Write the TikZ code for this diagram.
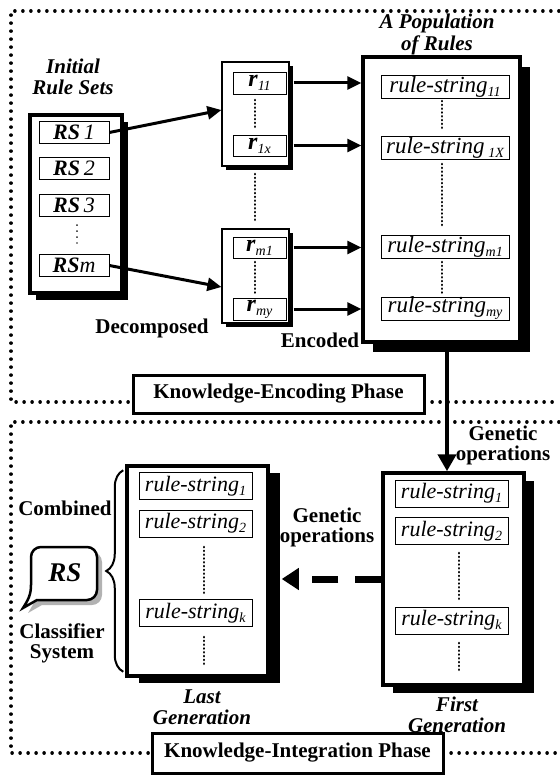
\documentclass[tikz,border=0pt]{standalone}
\usepackage{fontspec}
\setmainfont{Liberation Serif}
\usetikzlibrary{arrows.meta,shadows,decorations.pathreplacing,calc}
\newcommand\lowsub[1]{\raisebox{-4pt}{\fontsize{14}{14}\selectfont\itshape #1}}
\begin{document}
\begin{tikzpicture}[x=1pt,y=-1pt,
  dotborder/.style={line width=3.4pt, line cap=round, dash pattern=on 0.2pt off 7.8pt},
  shd/.style n args={2}{drop shadow={shadow xshift=#1, shadow yshift=-#2, fill=black, opacity=1}},
  bigbox/.style={draw, line width=3.2pt, fill=white, inner sep=0pt},
  smallbox/.style={draw, line width=1.2pt, fill=white, inner sep=0pt, shd={4pt}{4pt}},
  strbox/.style={draw, line width=0.7pt, fill=white, inner sep=0pt},
  lab/.style={font=\fontsize{21}{20}\selectfont\bfseries, align=center},
  itlab/.style={font=\fontsize{21}{21}\selectfont\bfseries\itshape, align=center},
  innerdots/.style={line width=2.6pt, line cap=round, dash pattern=on 0.2pt off 3.6pt},
  arr/.style={line width=3pt, -{Triangle[length=14pt,width=13pt]}},
  rsf/.style={font=\fontsize{22}{22}\selectfont},
  rf/.style={font=\fontsize{24}{24}\selectfont},
  strA/.style={font=\fontsize{23}{23}\selectfont},
  strB/.style={font=\fontsize{22}{22}\selectfont}
]
\useasboundingbox (0,0) rectangle (559,778);

% dotted phase regions
\draw[dotborder] (559,11) -- (11,11) -- (11,402) -- (133,402);
\draw[dotborder] (424,402) -- (559,402);
\draw[dotborder] (559,422) -- (11,422) -- (11,753) -- (152,753);
\draw[dotborder] (443,753) -- (559,753);

% Initial rule sets
\node[itlab] (irslab) at (73,77) {Initial\\Rule Sets};
\node[bigbox, line width=3.5pt, minimum width=92pt, minimum height=178pt, shd={6pt}{7pt}] (irs) at (76,204) {};
\node[strbox, rsf, minimum width=70pt, minimum height=22pt] (rs1) at (74,132.5) {\textbf{\textit{RS}}\,\textit{1}};
\node[strbox, rsf, minimum width=70pt, minimum height=22pt] (rs2) at (74,168) {\textbf{\textit{RS}}\,\textit{2}};
\node[strbox, rsf, minimum width=70pt, minimum height=22pt] (rs3) at (74,205) {\textbf{\textit{RS}}\,\textit{3}};
\node[strbox, rsf, minimum width=70pt, minimum height=22pt] (rsm) at (74,265.5) {\textbf{\textit{RS}}\textit{m}};
\draw[line width=1.4pt, line cap=round, dash pattern=on 0.2pt off 5.8pt] (77,225) -- (77,243);

% decomposed boxes
\node[smallbox, minimum width=67pt, minimum height=104pt] (ubox) at (255.5,114) {};
\node[smallbox, minimum width=67pt, minimum height=94pt] (lbox) at (255.5,276) {};
\node[strbox, rf, minimum width=53pt, minimum height=22pt] (r11) at (259.5,83) {\textbf{\textit{r}}\lowsub{11}};
\node[strbox, rf, minimum width=53pt, minimum height=21pt] (r1x) at (259.5,145.5) {\textbf{\textit{r}}\lowsub{1x}};
\node[strbox, rf, minimum width=53pt, minimum height=21pt] (rm1) at (259.5,247.5) {\textbf{\textit{r}}\lowsub{m1}};
\node[strbox, rf, minimum width=53pt, minimum height=22pt] (rmy) at (259.5,309) {\textbf{\textit{r}}\lowsub{my}};
\draw[innerdots] (255,100) -- (255,128);
\draw[innerdots] (255,174) -- (255,223);
\draw[innerdots] (255,262) -- (255,293);
\node[lab] (decomp) at (152,328) {Decomposed};

% population
\node[itlab] (poplab) at (437,34.5) {A Population\\[1pt]of Rules};
\node[bigbox, line width=3.5pt, minimum width=157pt, minimum height=285pt, shd={10pt}{10pt}] (pop) at (441.5,199.5) {};
\node[strbox, strA, minimum width=128pt, minimum height=23pt] (s11) at (445,86.5) {\textit{rule-string}\lowsub{11}};
\node[strbox, strA, minimum width=128pt, minimum height=23pt] (s1x) at (445,147.5) {\textit{rule-string}\,\lowsub{1X}};
\node[strbox, strA, minimum width=128pt, minimum height=23pt] (sm1) at (445,246.5) {\textit{rule-string}\lowsub{m1}};
\node[strbox, strA, minimum width=128pt, minimum height=23pt] (smy) at (445,308.5) {\textit{rule-string}\lowsub{my}};
\draw[innerdots] (442,101) -- (442,128);
\draw[innerdots] (442,164) -- (442,225);
\draw[innerdots] (442,262) -- (442,293);
\node[lab] (enc) at (320,340) {Encoded};

% arrows upper part
\draw[arr] (rs1.east) -- ($(ubox.west)+(0,-4)$);
\draw[arr] (rsm.east) -- ($(lbox.west)+(0,11)$);
\draw[arr] ($(r11.east -| ubox.east)+(4,0)$) -- (r11.east -| pop.west);
\draw[arr] ($(r1x.east -| ubox.east)+(4,0)$) -- (r1x.east -| pop.west);
\draw[arr] ($(rm1.east -| lbox.east)+(4,0)$) -- (rm1.east -| pop.west);
\draw[arr] ($(rmy.east -| lbox.east)+(4,0)$) -- (rmy.east -| pop.west);

% phase labels
\node[bigbox, line width=3pt, minimum width=291pt, minimum height=38pt, font=\fontsize{21}{21}\selectfont\bfseries] (kep) at (278.5,394) {Knowledge-Encoding Phase};
\node[bigbox, line width=3pt, minimum width=291pt, minimum height=40pt, font=\fontsize{21}{21}\selectfont\bfseries] (kip) at (297.5,753) {Knowledge-Integration Phase};

% first generation
\node[bigbox, line width=3.5pt, minimum width=141pt, minimum height=212pt, shd={10pt}{8pt}] (fg) at (453.5,579) {};
\node[strbox, strB, minimum width=113pt, minimum height=27pt] (f1) at (451.5,493.5) {\textit{rule-string}\lowsub{1}};
\node[strbox, strB, minimum width=113pt, minimum height=27pt] (f2) at (451.5,531) {\textit{rule-string}\lowsub{2}};
\node[strbox, strB, minimum width=113pt, minimum height=27pt] (fk) at (451.5,620.5) {\textit{rule-string}\lowsub{k}};
\draw[innerdots] (459,553) -- (459,602);
\draw[innerdots] (459,643) -- (459,673);
\node[itlab] (fglab) at (457,715) {First\\Generation};

% last generation
\node[bigbox, line width=3.5pt, minimum width=141pt, minimum height=210pt, shd={12pt}{7pt}] (lg) at (197.5,571) {};
\node[strbox, strB, minimum width=113pt, minimum height=27pt] (l1) at (195.5,486) {\textit{rule-string}\lowsub{1}};
\node[strbox, strB, minimum width=113pt, minimum height=27pt] (l2) at (195.5,523.5) {\textit{rule-string}\lowsub{2}};
\node[strbox, strB, minimum width=113pt, minimum height=27pt] (lk) at (195.5,613) {\textit{rule-string}\lowsub{k}};
\draw[innerdots] (204,547) -- (204,593);
\draw[innerdots] (204,637) -- (204,667);
\node[itlab] (lglab) at (202,707.5) {Last\\Generation};

% genetic operations
\coordinate (vt) at (447,0);
\draw[line width=4.5pt, -{Triangle[length=17pt,width=18pt]}] (vt |- pop.south) -- (vt |- fg.north);
\node[lab] (go1) at (503,445) {Genetic\\operations};
\draw[line width=7pt, dash pattern=on 26pt off 17pt, -{Triangle[length=17pt,width=21pt]}] (fg.west) -- ($(fg.west -| lg.east)+(12,0)$);
\node[lab] (go2) at (327,527) {Genetic\\operations};

% brace
\draw[decorate, decoration={brace, amplitude=17pt, aspect=0.5}, line width=2pt] ($(lg.south west)+(-2,-6)$) -- ($(lg.north west)+(-2,6)$);

% classifier bubble
\fill[gray!60] (42,605) -- (28,613) .. controls (33,605) and (36,600) .. (36,590) [rounded corners=10pt] -- (36,552) -- (102,552) -- (102,605) -- (65,605) [sharp corners] -- cycle;
\draw[line width=2.5pt, fill=white] (37,600) -- (23,608) .. controls (28,600) and (31,595) .. (31,585) [rounded corners=10pt] -- (31,547) -- (97,547) -- (97,600) -- (60,600) [sharp corners] -- cycle;
\node[font=\fontsize{27}{27}\selectfont\bfseries\itshape] (bub) at (65,573) {RS};
\node[lab] (comb) at (65,508) {Combined};
\node[lab] (cls) at (62,643) {Classifier\\System};
\end{tikzpicture}
\end{document}
